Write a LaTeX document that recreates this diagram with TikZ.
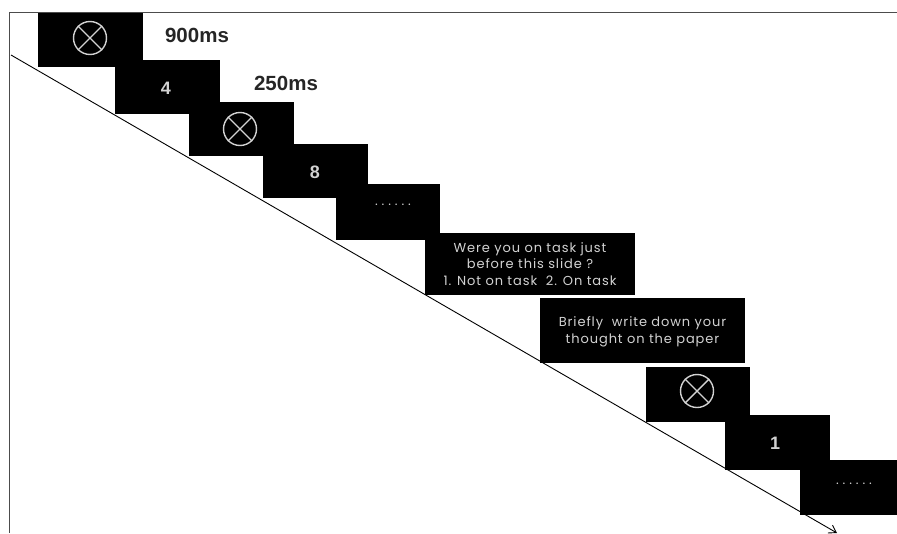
\documentclass[tikz,border=0pt]{standalone}
\usepackage{fontspec}
\setmainfont{Liberation Sans}
\newfontfamily\geo[LetterSpace=7]{Poppins}
\newfontfamily\geodots[LetterSpace=30]{Poppins}
\usetikzlibrary{arrows.meta}
\definecolor{txtgray}{RGB}{210,210,210}
\begin{document}
\begin{tikzpicture}[x=1pt,y=-1pt,
  slide/.style={fill=black,draw=none,inner sep=0pt,minimum width=105pt,minimum height=54pt},
  bignum/.style={text=txtgray,font=\bfseries\fontsize{18}{18}\selectfont},
  msg/.style={text=txtgray,font=\geo\fontsize{13}{16.5}\selectfont,align=center},
  dots/.style={text=txtgray,font=\geodots\fontsize{13}{13}\selectfont},
  dur/.style={font=\bfseries\fontsize{20.5}{20.5}\selectfont,text=black!85},
  fixc/.style={circle,draw=txtgray,line width=1.4pt,minimum size=33pt,inner sep=0pt},
  fix/.style={draw=txtgray,line width=1.4pt}]
\useasboundingbox (0,0) rectangle (897,533);
% frame
\draw[black!70,line width=0.8pt] (897,12) -- (9,12) -- (9,533);
% slides
\node[slide] (s1) at (90.5,40) {};
\node[slide] (s2) at (167.5,86.5) {};
\node[slide] (s3) at (241.5,128.5) {};
\node[slide] (s4) at (315.5,170.5) {};
\node[slide,minimum width=104pt,minimum height=56pt] (s5) at (388,212) {};
\node[slide,minimum width=210pt,minimum height=62pt] (s6) at (530,264) {};
\node[slide,minimum width=205pt,minimum height=65pt] (s7) at (642.5,330.5) {};
\node[slide,minimum width=104pt,minimum height=55pt] (s8) at (698,394.5) {};
\node[slide,minimum height=55pt] (s9) at (777.5,442) {};
\node[slide,minimum width=97pt,minimum height=55pt] (s10) at (848.5,487.5) {};
% fixation crosses
\foreach \c/\px/\py in {f1/90/38, f3/240/129, f8/697/391}{
  \node[fixc] (\c) at (\px,\py) {};
  \draw[fix] (\c.north west) -- (\c.south east);
  \draw[fix] (\c.south west) -- (\c.north east);
}
% digits
\node[bignum] (d4) at (166,88) {4};
\node[bignum] (d8) at (315,172) {8};
\node[bignum] (d1) at (775,443) {1};
\node[dots] (e5) at (393,205) {......};
\node[dots] (e10) at (854,484) {......};
\node[msg] (q6) at (530,264) {Were you on task just\\before this slide ?\\1. Not on task\ \ 2. On task};
\node[msg] (q7) at (642.5,332) {Briefly\ \ write down your\\thought on the paper};
% durations
\node[dur] (t900) at (197,35) {900ms};
\node[dur] (t250) at (286,83) {250ms};
% time arrow
\coordinate (a0) at (11,55);
\coordinate (a1) at (837,533);
\draw[line width=0.9pt,-{Straight Barb[length=7pt,width=9pt]}] (a0) -- (a1);
\end{tikzpicture}
\end{document}
